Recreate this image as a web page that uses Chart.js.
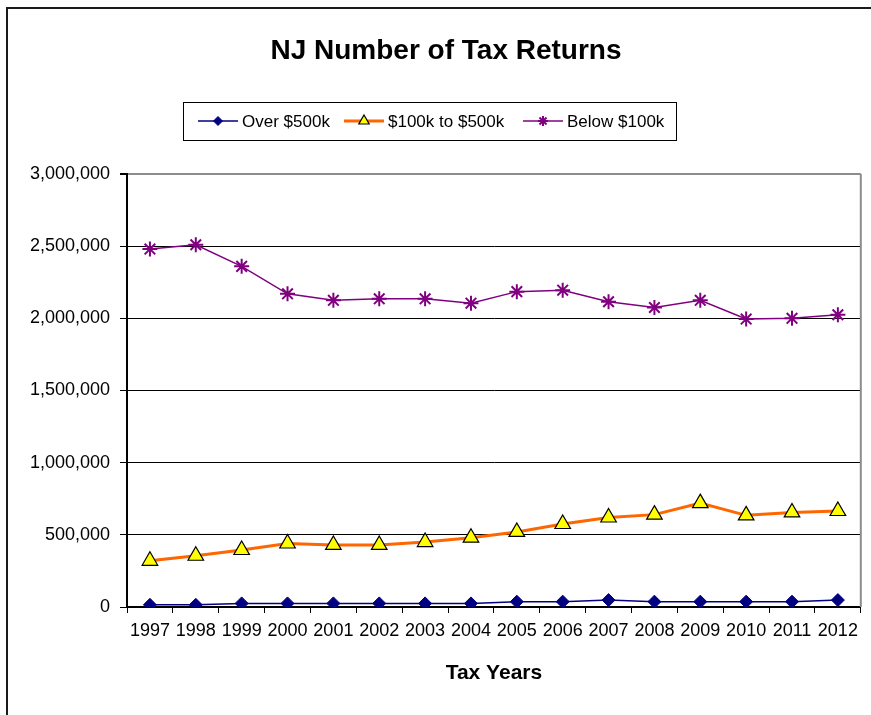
<!DOCTYPE html>
<html>
<head>
<meta charset="utf-8">
<title>NJ Number of Tax Returns</title>
<script src="https://cdn.jsdelivr.net/npm/chart.js@4/dist/chart.umd.min.js"></script>
<style>
  html, body { margin: 0; padding: 0; background: #fff; }
  #wrap { width: 871px; height: 715px; position: relative; }
</style>
</head>
<body>
<div id="wrap"><canvas id="mycanvas" width="871" height="715"></canvas></div>
<script>
// tax years and return counts per income bracket
var years = ['1997', '1998', '1999', '2000', '2001', '2002', '2003', '2004',
             '2005', '2006', '2007', '2008', '2009', '2010', '2011', '2012'];
var over500k = [15000, 15000, 25000, 25000, 25000, 25000, 25000, 25000,
                37000, 37000, 48000, 37000, 37000, 37000, 37000, 48000];
var mid100to500k = [320000, 355000, 395000, 440000, 430000, 430000, 450000, 480000,
                    520000, 575000, 620000, 640000, 720000, 635000, 655000, 665000];
var below100k = [2480000, 2510000, 2360000, 2170000, 2125000, 2135000, 2135000, 2105000,
                 2185000, 2195000, 2115000, 2075000, 2125000, 1995000, 2000000, 2025000];
var yTicks = [0, 500000, 1000000, 1500000, 2000000, 2500000, 3000000];

var chartTitle = 'NJ Number of Tax Returns';
var seriesNames = ['Over $500k', '$100k to $500k', 'Below $100k'];

var FONT = "'Liberation Sans', Arial, Helvetica, sans-serif";

// frame, title, legend box and right edge of the plot
var decor = {
    id: 'decor',
    beforeDraw: function (chart) {
        var ctx = chart.ctx;
        ctx.save();
        ctx.fillStyle = '#fff';
        ctx.fillRect(0, 0, chart.width, chart.height);
        ctx.strokeStyle = '#1a1a1a';
        ctx.lineWidth = 2;
        ctx.beginPath();
        ctx.moveTo(7, chart.height);
        ctx.lineTo(7, 8);
        ctx.lineTo(chart.width, 8);
        ctx.stroke();
        ctx.restore();
    },
    afterDraw: function (chart) {
        var ctx = chart.ctx;
        var area = chart.chartArea;
        ctx.save();

        // right border of the plot area
        ctx.strokeStyle = '#8c8c8c';
        ctx.lineWidth = 2;
        ctx.beginPath();
        ctx.moveTo(area.right, area.top);
        ctx.lineTo(area.right, area.bottom);
        ctx.stroke();

        // title
        ctx.fillStyle = '#000';
        ctx.font = 'bold 28px ' + FONT;
        ctx.textAlign = 'center';
        ctx.textBaseline = 'middle';
        ctx.fillText(chartTitle, 446, 51);

        // legend
        ctx.strokeStyle = '#000';
        ctx.lineWidth = 1;
        ctx.strokeRect(183.5, 102.5, 493, 38);
        var starts = [198, 344, 523];
        var legendRadius = [4.5, 6, 5];
        var ly = 121;
        ctx.font = '17px ' + FONT;
        ctx.textAlign = 'left';
        chart.data.datasets.forEach(function (ds, i) {
            var x0 = starts[i];
            ctx.strokeStyle = ds.borderColor;
            ctx.lineWidth = ds.borderWidth;
            ctx.beginPath();
            ctx.moveTo(x0, ly);
            ctx.lineTo(x0 + 40, ly);
            ctx.stroke();
            ctx.fillStyle = ds.pointBackgroundColor;
            ctx.strokeStyle = ds.pointBorderColor;
            ctx.lineWidth = ds.pointBorderWidth;
            Chart.helpers.drawPoint(ctx, {
                pointStyle: ds.pointStyle,
                radius: legendRadius[i],
                rotation: 0,
                borderWidth: ds.pointBorderWidth
            }, x0 + 20, ly);
            ctx.fillStyle = '#000';
            ctx.fillText(ds.label, x0 + 44, ly + 1);
        });
        ctx.restore();
    }
};

var chartdata = {
    labels: years,
    datasets: [
        {
            label: seriesNames[0],
            data: over500k,
            borderColor: '#000080',
            borderWidth: 1.5,
            pointStyle: 'rectRot',
            pointRadius: 6.5,
            pointBackgroundColor: '#000080',
            pointBorderColor: '#000080',
            pointBorderWidth: 1
        },
        {
            label: seriesNames[1],
            data: mid100to500k,
            borderColor: '#ff6600',
            borderWidth: 3,
            pointStyle: 'triangle',
            pointRadius: 9,
            pointBackgroundColor: '#ffff00',
            pointBorderColor: '#000',
            pointBorderWidth: 1.2
        },
        {
            label: seriesNames[2],
            data: below100k,
            borderColor: '#800080',
            borderWidth: 1.5,
            pointStyle: 'star',
            pointRadius: 7.5,
            pointBackgroundColor: '#800080',
            pointBorderColor: '#800080',
            pointBorderWidth: 2
        }
    ]
};

var ctx = document.getElementById('mycanvas');
var lineGraph = new Chart(ctx, {
    type: 'line',
    data: chartdata,
    plugins: [decor],
    options: {
        responsive: false,
        animation: false,
        events: [],
        layout: { padding: { left: 0, top: 174, right: 9, bottom: 0 } },
        plugins: {
            legend: { display: false },
            title: { display: false },
            tooltip: { enabled: false }
        },
        elements: { line: { tension: 0 } },
        scales: {
            x: {
                offset: true,
                afterFit: function (scale) { scale.height = 108; },
                grid: {
                    offset: true,
                    drawOnChartArea: false,
                    drawTicks: true,
                    tickLength: 6,
                    color: '#000',
                    lineWidth: 1
                },
                border: { display: true, color: '#000', width: 2 },
                ticks: {
                    color: '#000',
                    font: { family: FONT, size: 18 },
                    padding: 7,
                    maxRotation: 0,
                    autoSkip: false
                },
                title: {
                    display: true,
                    text: 'Tax Years',
                    color: '#000',
                    font: { family: FONT, size: 21, weight: 'bold' },
                    padding: { top: 0, bottom: 29 }
                }
            },
            y: {
                min: 0,
                max: 3000000,
                afterFit: function (scale) { scale.width = 127; },
                afterBuildTicks: function (scale) {
                    scale.ticks = yTicks.map(function (v) { return { value: v }; });
                },
                grid: {
                    color: function (c) {
                        return c.tick && c.tick.value === 3000000 ? '#8c8c8c' : '#000';
                    },
                    lineWidth: function (c) {
                        return c.tick && c.tick.value === 3000000 ? 2 : 1;
                    },
                    tickColor: '#000',
                    tickLength: 7
                },
                border: { display: true, color: '#000', width: 2 },
                ticks: {
                    color: '#000',
                    font: { family: FONT, size: 18 },
                    padding: 10,
                    callback: function (v) { return Number(v).toLocaleString('en-US'); }
                }
            }
        }
    }
});
</script>
</body>
</html>
